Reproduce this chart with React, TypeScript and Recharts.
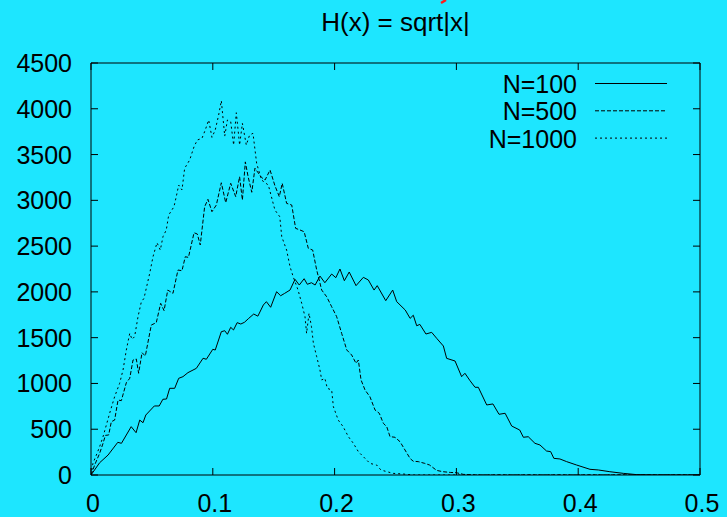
import React from 'react';
import { LineChart, Line, XAxis, YAxis } from 'recharts';

// Palette / look of the gnuplot original
const BG = '#1de6ff';
const INK = '#000000';
const FONT = '"Liberation Sans", Arial, Helvetica, sans-serif';

const W = 727;
const H = 517;
const TICK = 7; // gnuplot draws its ticks inward

const title = 'H(x) = sqrt|x|';
const xTicks = [0, 0.1, 0.2, 0.3, 0.4, 0.5];
const yTicks = [0, 500, 1000, 1500, 2000, 2500, 3000, 3500, 4000, 4500];

// N=100 (solid)
const n100X = [
  0, 0.0071, 0.014, 0.022, 0.025, 0.033, 0.037, 0.04, 0.0427, 0.045, 0.052, 0.056, 0.059, 0.062, 0.0646,
  0.0687, 0.072, 0.0755, 0.0796, 0.0865, 0.092, 0.0947, 0.1, 0.102, 0.107, 0.1098, 0.112, 0.1147, 0.117,
  0.12, 0.123, 0.126, 0.1295, 0.1336, 0.137, 0.1415, 0.144, 0.1475, 0.1524, 0.1557, 0.159, 0.1634, 0.1675,
  0.171, 0.175, 0.1776, 0.181, 0.184, 0.188, 0.192, 0.1976, 0.201, 0.2044, 0.208, 0.212, 0.2176, 0.2236,
  0.2277, 0.2324, 0.235, 0.242, 0.2477, 0.251, 0.258, 0.262, 0.2646, 0.2674, 0.27, 0.275, 0.2797, 0.2838,
  0.2893, 0.292, 0.2989, 0.3043, 0.307, 0.3112, 0.3153, 0.318, 0.3249, 0.33, 0.335, 0.34, 0.3454, 0.352,
  0.355, 0.359, 0.3645, 0.3686, 0.374, 0.3774, 0.38, 0.385, 0.3905, 0.3987, 0.4097, 0.4165, 0.426, 0.437,
  0.448, 0.465, 0.5,
];
const n100Y = [
  0, 134, 218, 357, 346, 528, 462, 600, 571, 655, 754, 754, 827, 830, 947,
  947, 1056, 1074, 1118, 1165, 1275, 1264, 1373, 1365, 1565, 1576, 1537, 1613, 1584,
  1664, 1649, 1668, 1711, 1758, 1735, 1857, 1893, 1832, 2002, 1958, 1984, 2020, 2137,
  2075, 2144, 2083, 2100, 2075, 2173, 2100, 2195, 2155, 2250, 2122, 2217, 2068, 2159,
  2130, 2020, 2068, 1904, 2020, 1893, 1802, 1711, 1745, 1630, 1645, 1540, 1558, 1493,
  1409, 1274, 1245, 1074, 1111, 1030, 958, 958, 765, 776, 663, 674, 535, 491,
  412, 418, 346, 328, 262, 255, 182, 175, 146, 109, 62, 55, 36, 18,
  4, 0, 0,
];

// N=500 (dashed)
const n500X = [
  0, 0.003, 0.0071, 0.0099, 0.0118, 0.0145, 0.0167, 0.0194, 0.0222, 0.0249, 0.029, 0.0318, 0.0345, 0.0372,
  0.0391, 0.0419, 0.0446, 0.0495, 0.0536, 0.0572, 0.06, 0.063, 0.0673, 0.0714, 0.0747, 0.0774, 0.08, 0.0846,
  0.0873, 0.0897, 0.0933, 0.096, 0.0993, 0.1029, 0.107, 0.1106, 0.1147, 0.1188, 0.122, 0.1243, 0.1267, 0.129,
  0.132, 0.1346, 0.14, 0.1429, 0.147, 0.151, 0.1546, 0.157, 0.1606, 0.1648, 0.168, 0.1716, 0.175, 0.1784,
  0.182, 0.1853, 0.1894, 0.1935, 0.1976, 0.2017, 0.2058, 0.21, 0.214, 0.2176, 0.2195, 0.2217, 0.225, 0.229,
  0.2332, 0.2367, 0.24, 0.2428, 0.2455, 0.2496, 0.2537, 0.2578, 0.262, 0.2646, 0.2687, 0.274, 0.278, 0.2838,
  0.289, 0.295, 0.3, 0.3056, 0.316, 0.5,
];
const n500Y = [
  0, 109, 237, 346, 433, 437, 582, 600, 819, 812, 1008, 1056, 1256, 1267,
  1111, 1336, 1300, 1638, 1664, 1875, 1795, 2020, 1984, 2239, 2231, 2384, 2377, 2646,
  2632, 2512, 2930, 3011, 2876, 2949, 3192, 2974, 3186, 3040, 3258, 3003, 3420, 3258,
  3088, 3350, 3250, 3222, 3331, 3160, 3040, 3186, 2967, 2949, 2694, 2676, 2657, 2476,
  2457, 2239, 2020, 1947, 1838, 1729, 1547, 1365, 1311, 1220, 1256, 1038, 928, 855,
  710, 674, 565, 528, 419, 412, 364, 273, 180, 150, 146, 127, 109, 50,
  36, 28, 25, 7, 0, 0,
];

// N=1000 (dotted)
const n1000X = [
  0, 0.0016, 0.0044, 0.0071, 0.0099, 0.0126, 0.0153, 0.0194, 0.0235, 0.0263, 0.029, 0.0318, 0.0337, 0.0358,
  0.0386, 0.0413, 0.0435, 0.0454, 0.0482, 0.0509, 0.0542, 0.0569, 0.0591, 0.0618, 0.0638, 0.0681, 0.07, 0.072,
  0.0747, 0.0769, 0.081, 0.0846, 0.0873, 0.0911, 0.0938, 0.0966, 0.0993, 0.102, 0.1048, 0.107, 0.1098, 0.112,
  0.1147, 0.1171, 0.1193, 0.122, 0.1243, 0.1275, 0.1302, 0.133, 0.136, 0.14, 0.1456, 0.151, 0.155, 0.1566,
  0.1606, 0.1634, 0.166, 0.17, 0.173, 0.1757, 0.177, 0.179, 0.181, 0.1826, 0.1853, 0.188, 0.1894, 0.192,
  0.194, 0.1976, 0.199, 0.203, 0.207, 0.2113, 0.2154, 0.2195, 0.2236, 0.229, 0.2345, 0.238, 0.243, 0.248,
  0.257, 0.265, 0.5,
];
const n1000Y = [
  0, 127, 218, 309, 419, 546, 674, 855, 1001, 1147, 1365, 1547, 1482, 1511,
  1729, 1890, 1930, 2040, 2203, 2384, 2537, 2457, 2603, 2676, 2840, 2930, 3040, 3167,
  3113, 3350, 3440, 3586, 3659, 3677, 3768, 3877, 3688, 3768, 3932, 4088, 3702, 3877,
  3859, 3604, 3957, 3604, 3841, 3604, 3713, 3732, 3404, 3222, 3167, 2894, 2821, 2603,
  2457, 2275, 2166, 2020, 1875, 1729, 1547, 1766, 1620, 1438, 1292, 1147, 1038, 1056,
  947, 928, 746, 600, 528, 419, 346, 255, 200, 127, 109, 55, 36, 18,
  10, 0, 0,
];

const zip = (xs: number[], ys: number[]) => xs.map((x, i) => ({ x, v: ys[i] }));

const SERIES = [
  { name: 'N=100', data: zip(n100X, n100Y), dash: undefined as string | undefined },
  { name: 'N=500', data: zip(n500X, n500Y), dash: '4 2' },
  { name: 'N=1000', data: zip(n1000X, n1000Y), dash: '2 3' },
];

const txt = { fontSize: 25, fill: INK, fontFamily: FONT };

// tick renderers: inward tick mark + label, like gnuplot
const LeftTick = ({ x, y, payload }: any) => (
  <g>
    <line x1={x} x2={x + TICK} y1={y} y2={y} stroke={INK} />
    <text x={x - 19} y={y} dy="0.36em" textAnchor="end" {...txt}>{payload.value}</text>
  </g>
);
const RightTick = ({ x, y }: any) => (
  <line x1={x - TICK} x2={x} y1={y} y2={y} stroke={INK} />
);
const BottomTick = ({ x, y, payload }: any) => (
  <g>
    <line x1={x} x2={x} y1={y - TICK} y2={y} stroke={INK} />
    <text x={x + 2} y={y + 37} textAnchor="middle" {...txt}>{payload.value}</text>
  </g>
);
const TopTick = ({ x, y }: any) => (
  <line x1={x} x2={x} y1={y} y2={y + TICK} stroke={INK} />
);

export default function App() {
  return (
    <div style={{ position: 'absolute', left: 0, top: 0, width: W, height: H, background: BG, fontFamily: FONT }}>
      <LineChart
        width={W}
        height={H}
        margin={{ top: 0, right: 0, bottom: 0, left: 0 }}
        style={{ position: 'absolute', left: 0, top: 0 }}
      >
        <XAxis
          dataKey="x"
          type="number"
          domain={[0, 0.5]}
          ticks={xTicks}
          allowDataOverflow
          height={42}
          axisLine={{ stroke: INK }}
          tickLine={false}
          tickSize={0}
          tickMargin={0}
          tick={BottomTick}
          interval={0}
        />
        <XAxis
          xAxisId="top"
          orientation="top"
          dataKey="x"
          type="number"
          domain={[0, 0.5]}
          ticks={xTicks}
          allowDataOverflow
          height={63}
          axisLine={{ stroke: INK }}
          tickLine={false}
          tickSize={0}
          tickMargin={0}
          tick={TopTick}
          interval={0}
        />
        <YAxis
          type="number"
          domain={[0, 4500]}
          ticks={yTicks}
          allowDataOverflow
          width={91}
          axisLine={{ stroke: INK }}
          tickLine={false}
          tickSize={0}
          tickMargin={0}
          tick={LeftTick}
          interval={0}
        />
        <YAxis
          yAxisId="right"
          orientation="right"
          type="number"
          domain={[0, 4500]}
          ticks={yTicks}
          allowDataOverflow
          width={27}
          axisLine={{ stroke: INK }}
          tickLine={false}
          tickSize={0}
          tickMargin={0}
          tick={RightTick}
          interval={0}
        />
        {SERIES.map((s) => (
          <Line
            key={s.name}
            data={s.data}
            dataKey="v"
            name={s.name}
            type="linear"
            stroke={INK}
            strokeWidth={1}
            strokeDasharray={s.dash}
            dot={false}
            activeDot={false}
            isAnimationActive={false}
          />
        ))}
      </LineChart>

      {/* title + key, drawn like gnuplot does */}
      <svg width={W} height={H} style={{ position: 'absolute', left: 0, top: 0, pointerEvents: 'none' }}>
        <text x={395.5} y={31} textAnchor="middle" fontSize={26} fill={INK} fontFamily={FONT}>
          {title}
        </text>
        {SERIES.map((s, i) => (
          <g key={s.name}>
            <text x={577} y={93 + i * 27.3} textAnchor="end" fontSize={25} fill={INK} fontFamily={FONT}>
              {s.name}
            </text>
            <line
              x1={595}
              x2={667}
              y1={83.5 + i * 27.3}
              y2={83.5 + i * 27.3}
              stroke={INK}
              strokeWidth={1}
              strokeDasharray={s.dash}
            />
          </g>
        ))}
        <path d="M441 3 L446 0" stroke="#ff1a1a" strokeWidth={2.5} />
      </svg>
    </div>
  );
}
